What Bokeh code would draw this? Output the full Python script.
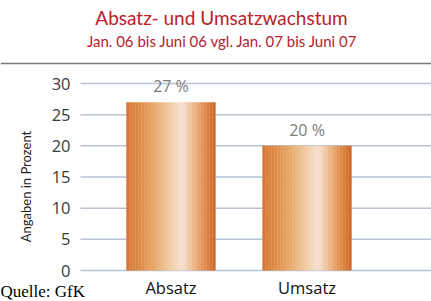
from bokeh.plotting import figure
from bokeh.models import Range1d, ColumnDataSource, Label, Span
from bokeh.transform import dodge
from bokeh.embed import file_html
from bokeh.resources import INLINE
import math

categories = ["Absatz", "Umsatz"]
values = [27, 20]
value_labels = ["27 %", "20 %"]
y_ticks = [0, 5, 10, 15, 20, 25, 30]
title = "Absatz- und Umsatzwachstum"
subtitle = "Jan. 06 bis Juni 06 vgl. Jan. 07 bis Juni 07"
y_label = "Angaben in Prozent"
source_note = "Quelle: GfK"

# plot area (data coords) : x from X0 to X1, y from 0 to top
X0, X1 = -0.165, 2.415
xs = [i + 0.5 for i in range(len(categories))]
src = ColumnDataSource(dict(x=xs, top=values, cat=categories, lab=value_labels,
                            zero=[0] * len(categories)))
tick_src = ColumnDataSource(dict(y=y_ticks, lab=[str(t) for t in y_ticks],
                                 x0=[X0] * len(y_ticks), x1=[X1] * len(y_ticks)))

p = figure(width=431, height=301, output_backend="svg", toolbar_location=None,
           x_range=Range1d(-0.753, 2.415), y_range=Range1d(-4.973, 43.32),
           x_axis_type=None, y_axis_type=None, min_border=0)
p.outline_line_color = None
p.grid.visible = False
p.background_fill_color = "white"
p.border_fill_color = "white"

# grid lines
p.segment(x0="x0", x1="x1", y0="y", y1="y", source=tick_src, line_color="#b9c3d2",
          line_width=1.5)
# y tick labels
p.text(x="x0", y="y", text="lab", source=tick_src, x_offset=-10, text_align="right",
       text_baseline="middle", text_font={"value": "Open Sans"}, text_font_size="16.5px",
       text_color="#3a3a3a")

# gradient bars drawn as strips
stops = [(0.0, (214, 118, 48)), (0.15, (222, 140, 70)), (0.32, (232, 172, 112)),
         (0.5, (242, 206, 170)), (0.63, (248, 226, 212)), (0.76, (236, 182, 134)),
         (0.9, (222, 132, 64)), (1.0, (206, 102, 36))]

def col(t):
    for (t0, c0), (t1, c1) in zip(stops[:-1], stops[1:]):
        if t0 <= t <= t1:
            f = (t - t0) / (t1 - t0)
            c = [round(a + (b - a) * f) for a, b in zip(c0, c1)]
            return "#%02x%02x%02x" % tuple(c)
    return "#%02x%02x%02x" % stops[-1][1]

bar_w = 0.655
n = 30
sw = bar_w / n
for k in range(n):
    off = -bar_w / 2 + sw * (k + 0.5)
    p.vbar(x=dodge("x", off), top="top", bottom=0, width=sw * 1.08, source=src,
           fill_color=col((k + 0.5) / n), line_color=None)

# value labels
p.text(x="x", y="top", text="lab", source=src, text_align="center", text_baseline="bottom",
       y_offset=-5, text_font={"value": "Open Sans"}, text_font_size="16px", text_color="#7d7d7d")
# category labels
p.text(x="x", y="zero", text="cat", source=src, text_align="center", text_baseline="middle",
       y_offset=17, text_font={"value": "Open Sans"}, text_font_size="16.5px", text_color="#111111")

# separator line under title
p.add_layout(Span(location=33.21, dimension="width", line_color="#7a7a7a", line_width=1.5))

p.add_layout(Label(x=221, y=17, x_units="canvas", y_units="canvas", text=title,
                   text_align="center", text_baseline="middle", text_font="Lato",
                   text_font_size="19px", text_color="#b5222c"))
p.add_layout(Label(x=222, y=40, x_units="canvas", y_units="canvas", text=subtitle,
                   text_align="center", text_baseline="middle", text_font="Lato",
                   text_font_size="15px", text_color="#b5222c"))
p.add_layout(Label(x=25, y=186, x_units="canvas", y_units="canvas", text=y_label,
                   angle=math.pi / 2, text_align="center", text_baseline="middle",
                   text_font="Lato", text_font_size="13px", text_color="#222222"))
p.add_layout(Label(x=0, y=291, x_units="canvas", y_units="canvas", text=source_note,
                   text_align="left", text_baseline="middle", text_font="Liberation Serif",
                   text_font_size="17px", text_color="#000000"))

open("out.html", "w").write(file_html(p, INLINE))
